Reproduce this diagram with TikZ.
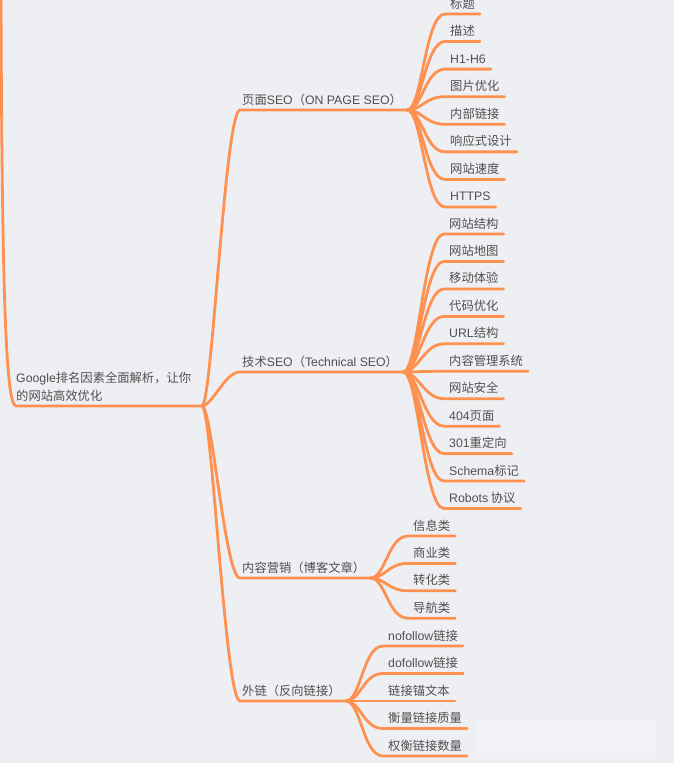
\documentclass[tikz,border=0pt]{standalone}
\usepackage{fontspec}
\setmainfont{Noto Sans CJK SC}
\newfontfamily\latfont{Liberation Sans}
\newcommand\la[1]{{\latfont #1}}
\usetikzlibrary{calc}
\definecolor{bgc}{HTML}{EEEFF3}
\definecolor{brc}{HTML}{FF9150}
\definecolor{txc}{HTML}{505050}
\begin{document}
\begin{tikzpicture}[x=1pt,y=-1pt,
  lbl/.style={anchor=base west, inner sep=0pt, text=txc, font=\fontsize{12.3}{18}\selectfont},
  conn/.style={draw=brc, line width=2.8pt, line cap=round, line join=round}]
\fill[bgc] (0,0) rectangle (674,763);
\useasboundingbox (0,0) rectangle (674,763);
% watermark haze
\fill[white, opacity=0.2] (475,720) rectangle (656,753);
% root
\coordinate (top) at (1,-3);
\coordinate (RL) at (16,406);
\coordinate (R) at (202,406);
\node[lbl, anchor=west, align=left] (root) at (16,387) {\la{Google}排名因素全面解析，让你\\的网站高效优化};
\draw[conn] (top) .. controls +(1,300) and +(-10,0) .. (RL) -- (R);
% level 1
\coordinate (t1l) at (240,110);
\coordinate (t2l) at (240,372);
\coordinate (t3l) at (240,578);
\coordinate (t4l) at (240,701);
\node[lbl] (t1) at (242,104) {页面\la{SEO}（\la{ON PAGE SEO}）};
\node[lbl] (t2) at (242,366) {技术\la{SEO}（\la{Technical SEO}）};
\node[lbl] (t3) at (242,572) {内容营销（博客文章）};
\node[lbl] (t4) at (242,695) {外链（反向链接）};
\foreach \k in {1,2,3,4}{
  \coordinate (t\k r) at ($(t\k.east |- t\k l)+(5,0)$);
  \draw[conn] (R) .. controls +(10,0) and +(-15,0) .. (t\k l) -- (t\k r);
}
% children of topic 1
\foreach \t [count=\i] in {标题,描述,\la{H1-H6},图片优化,内部链接,响应式设计,网站速度,\la{HTTPS}}{
  \pgfmathsetmacro\yy{14+27.57*(\i-1)}
  \coordinate (a\i l) at (445,\yy);
  \node[lbl] (a\i) at (450,\yy-6) {\t};
  \draw[conn] (t1r) .. controls +(15,0) and +(-20,0) .. (a\i l) -- ($(a\i.east |- a\i l)+(5,0)$);
}
% children of topic 2
\foreach \t [count=\i] in {网站结构,网站地图,移动体验,代码优化,\la{URL}结构,内容管理系统,网站安全,\la{404}页面,\la{301}重定向,\la{Schema}标记,\la{Robots} 协议}{
  \pgfmathsetmacro\yy{234+27.45*(\i-1)}
  \coordinate (b\i l) at (444,\yy);
  \node[lbl] (b\i) at (449,\yy-6) {\t};
  \draw[conn] (t2r) .. controls +(15,0) and +(-20,0) .. (b\i l) -- ($(b\i.east |- b\i l)+(5,0)$);
}
% children of topic 3
\foreach \t [count=\i] in {信息类,商业类,转化类,导航类}{
  \pgfmathsetmacro\yy{536+27.4*(\i-1)}
  \coordinate (c\i l) at (408,\yy);
  \node[lbl] (c\i) at (413,\yy-6) {\t};
  \draw[conn] (t3r) .. controls +(15,0) and +(-20,0) .. (c\i l) -- ($(c\i.east |- c\i l)+(5,0)$);
}
% children of topic 4
\foreach \t [count=\i] in {\la{nofollow}链接,\la{dofollow}链接,链接锚文本,衡量链接质量,权衡链接数量}{
  \pgfmathsetmacro\yy{646+27.5*(\i-1)}
  \coordinate (d\i l) at (383,\yy);
  \node[lbl] (d\i) at (388,\yy-6) {\t};
  \draw[conn] (t4r) .. controls +(15,0) and +(-20,0) .. (d\i l) -- ($(d\i.east |- d\i l)+(5,0)$);
}
\end{tikzpicture}
\end{document}
